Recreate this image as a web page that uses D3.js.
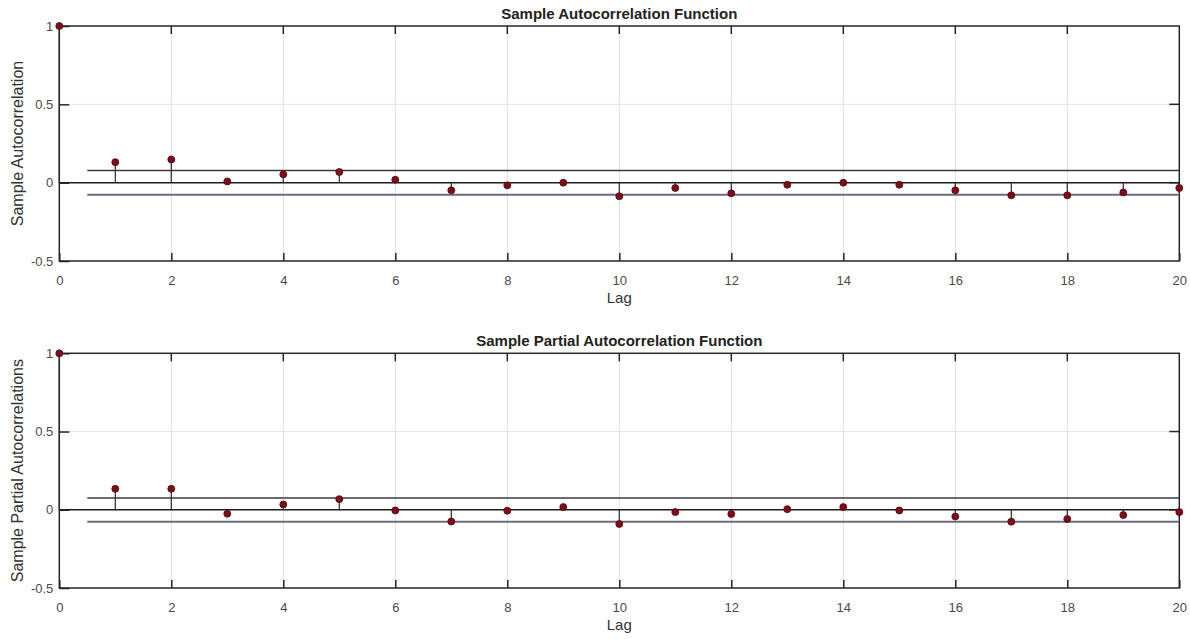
<!DOCTYPE html>
<html>
<head>
<meta charset="utf-8">
<script src="https://cdn.jsdelivr.net/npm/d3@7"></script>
<style>
  body { margin: 0; background: #fff; }
  svg { display: block; font-family: "Liberation Sans", Arial, sans-serif; }
</style>
</head>
<body>
<div id="chart"></div>
<script>
// Data
const lags = d3.range(0, 21);
const acfValues = [1, 0.131, 0.148, 0.008, 0.053, 0.068, 0.019, -0.049, -0.017, 0.0, -0.087,
                   -0.034, -0.068, -0.013, 0.0, -0.013, -0.049, -0.081, -0.081, -0.062, -0.034];
const pacfValues = [1, 0.134, 0.134, -0.025, 0.034, 0.068, -0.004, -0.075, -0.006, 0.017, -0.091,
                    -0.015, -0.027, 0.004, 0.017, -0.004, -0.043, -0.076, -0.059, -0.034, -0.015];
const acfBound = 0.077;
const pacfBound = 0.076;
const xTicks = [0, 2, 4, 6, 8, 10, 12, 14, 16, 18, 20];
const yTicks = [-0.5, 0, 0.5, 1];

const W = 1190, H = 639;
const svg = d3.select("#chart").append("svg")
    .attr("width", W)
    .attr("height", H);

const x = d3.scaleLinear().domain([0, 20]).range([59.3, 1179.3]);

function drawPanel(top, bottom, values, bound, title, yLabel) {
    const y = d3.scaleLinear().domain([-0.5, 1]).range([bottom, top]);
    const g = svg.append("g");
    const x0 = x.range()[0], x1 = x.range()[1];

    // grid
    g.selectAll(".vgrid").data(xTicks.slice(1, -1)).enter().append("line")
        .attr("x1", d => x(d)).attr("x2", d => x(d))
        .attr("y1", top).attr("y2", bottom)
        .attr("stroke", "#e2e2e2").attr("stroke-width", 1);
    g.selectAll(".hgrid").data(yTicks.slice(1, -1)).enter().append("line")
        .attr("x1", x0).attr("x2", x1)
        .attr("y1", d => y(d)).attr("y2", d => y(d))
        .attr("stroke", "#e6e6e6").attr("stroke-width", 1);

    // bottom axis with inward ticks
    const xAxis = g.append("g")
        .attr("transform", `translate(0,${bottom})`)
        .call(d3.axisBottom(x).tickValues(xTicks).tickSize(-8).tickPadding(15));
    xAxis.select(".domain").remove();
    xAxis.selectAll("line").attr("stroke", "#262626").attr("stroke-width", 1.5);
    xAxis.selectAll("text").attr("fill", "#4a4a4a").attr("font-size", 13);

    // top ticks
    g.selectAll(".ttick").data(xTicks.slice(1, -1)).enter().append("line")
        .attr("x1", d => x(d)).attr("x2", d => x(d))
        .attr("y1", top).attr("y2", top + 8)
        .attr("stroke", "#262626").attr("stroke-width", 1.5);

    // left axis
    const yAxis = g.append("g")
        .attr("transform", `translate(${x0},0)`)
        .call(d3.axisLeft(y).tickValues(yTicks).tickFormat(d => String(d)).tickSize(-10).tickPadding(6));
    yAxis.select(".domain").remove();
    yAxis.selectAll("line").attr("stroke", "#262626").attr("stroke-width", 1.5);
    yAxis.selectAll("text").attr("fill", "#4a4a4a").attr("font-size", 13);

    // right ticks
    g.selectAll(".rtick").data(yTicks.slice(1, -1)).enter().append("line")
        .attr("x1", x1 - 10).attr("x2", x1)
        .attr("y1", d => y(d)).attr("y2", d => y(d))
        .attr("stroke", "#262626").attr("stroke-width", 1.5);

    // box
    g.append("rect")
        .attr("x", x0).attr("y", top)
        .attr("width", x1 - x0).attr("height", bottom - top)
        .attr("fill", "none").attr("stroke", "#262626").attr("stroke-width", 1.5);

    // confidence bounds
    g.append("line")
        .attr("x1", x(0.5)).attr("x2", x1)
        .attr("y1", y(bound)).attr("y2", y(bound))
        .attr("stroke", "#3a3a3a").attr("stroke-width", 1.5);
    g.append("line")
        .attr("x1", x(0.5)).attr("x2", x1)
        .attr("y1", y(-bound)).attr("y2", y(-bound))
        .attr("stroke", "#6c6c80").attr("stroke-width", 2);

    // zero line
    g.append("line")
        .attr("x1", x0).attr("x2", x1)
        .attr("y1", y(0)).attr("y2", y(0))
        .attr("stroke", "#1e1e1e").attr("stroke-width", 1.5);

    // stems
    g.selectAll(".stem").data(lags).enter().append("line")
        .attr("x1", d => x(d)).attr("x2", d => x(d))
        .attr("y1", y(0)).attr("y2", d => y(values[d]))
        .attr("stroke", "#2a2a2a").attr("stroke-width", 1.2);

    // markers
    g.selectAll(".dot").data(lags).enter().append("circle")
        .attr("cx", d => x(d))
        .attr("cy", d => y(values[d]))
        .attr("r", 3.5)
        .attr("fill", "#7a0c1c")
        .attr("stroke", "#5a0812").attr("stroke-width", 0.8);

    // title
    g.append("text")
        .attr("x", (x0 + x1) / 2).attr("y", top - 7)
        .attr("text-anchor", "middle")
        .attr("font-size", 15).attr("font-weight", "bold")
        .attr("fill", "#222")
        .text(title);

    // x label
    g.append("text")
        .attr("x", (x0 + x1) / 2).attr("y", bottom + 42)
        .attr("text-anchor", "middle")
        .attr("font-size", 15).attr("fill", "#333")
        .text("Lag");

    // y label
    g.append("text")
        .attr("transform", `translate(23,${(top + bottom) / 2}) rotate(-90)`)
        .attr("text-anchor", "middle")
        .attr("font-size", 16).attr("fill", "#333")
        .text(yLabel);
}

drawPanel(26, 261, acfValues, acfBound, "Sample Autocorrelation Function", "Sample Autocorrelation");
drawPanel(353.3, 588, pacfValues, pacfBound, "Sample Partial Autocorrelation Function", "Sample Partial Autocorrelations");
</script>
</body>
</html>
